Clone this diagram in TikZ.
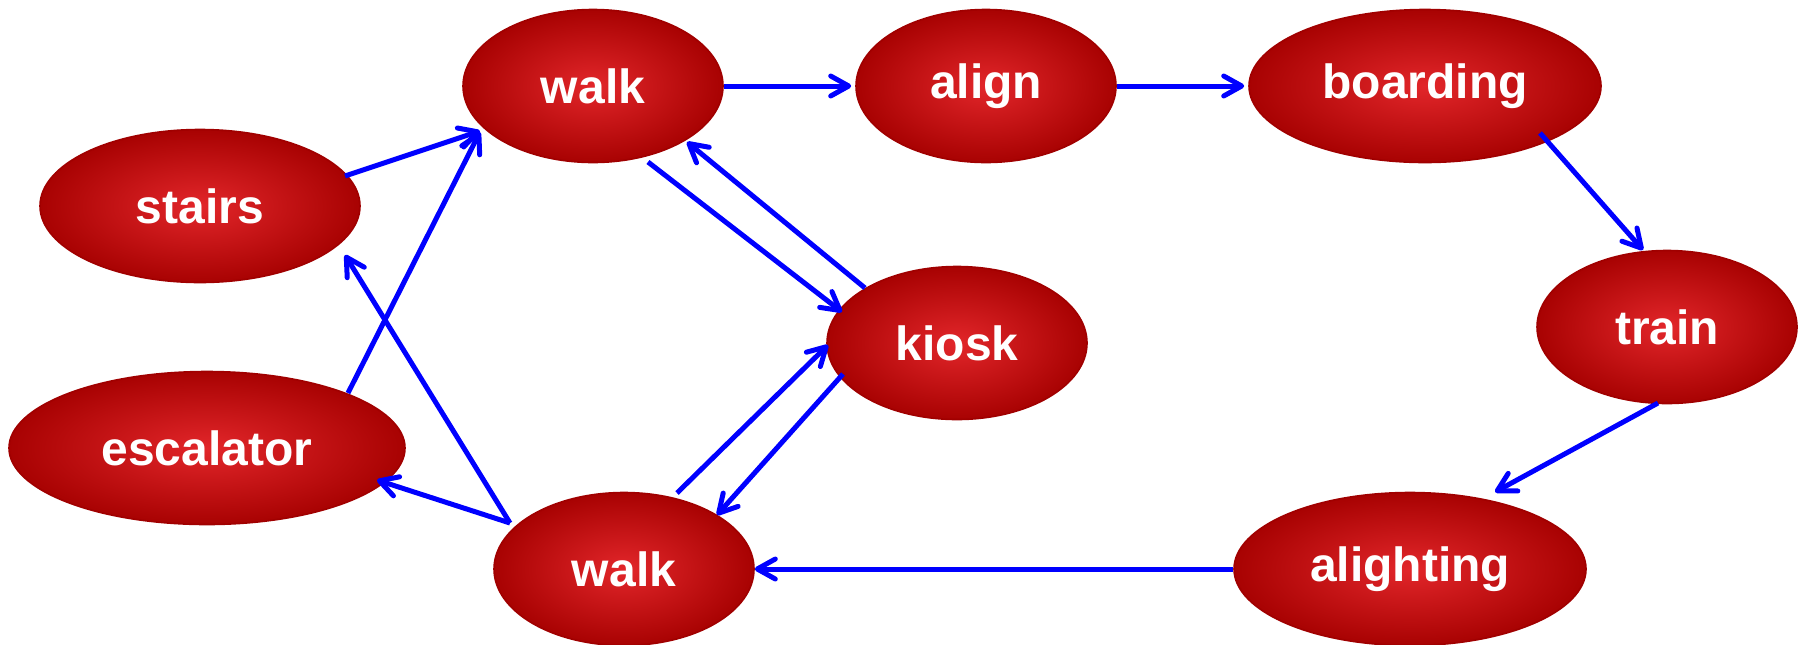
\documentclass[tikz,border=0pt]{standalone}
\usepackage{fontspec}
\setmainfont{Liberation Sans}
\usetikzlibrary{shapes.geometric,arrows.meta}
\definecolor{redin}{RGB}{226,38,42}
\definecolor{redout}{RGB}{168,2,2}
\definecolor{redline}{RGB}{160,0,0}
\definecolor{arrowblue}{RGB}{0,0,255}
\tikzset{
  state/.style={ellipse, draw=redline, line width=0.8pt, shading=radial,
    inner color=redin, outer color=redout, inner sep=0pt,
    minimum height=76.5pt, text=white,
    font=\fontsize{24}{28}\selectfont\bfseries},
  narrow/.style={state, minimum width=130pt},
  mid/.style={state, minimum width=160pt},
  wide/.style={state, minimum width=176pt},
  widest/.style={state, minimum width=198pt},
  arr/.style={draw=arrowblue, line width=2.5pt,
    -{Straight Barb[length=9pt,width=10pt,round]}},
}
\begin{document}
\begin{tikzpicture}[x=0.5pt,y=-0.5pt]
  \useasboundingbox (0,0) rectangle (1802,644);
  \clip (0,0) rectangle (1802,644);

  % states
  \node[narrow] (walkT)     at (593,86)   {walk};
  \node[narrow] (align)     at (986,86)   {align};
  \node[wide]   (boarding)  at (1425,86)  {boarding};
  \node[mid]    (stairs)    at (200,206)  {stairs};
  \node[widest] (escalator) at (207,448)  {escalator};
  \node[narrow] (kiosk)     at (957,343)  {kiosk};
  \node[narrow] (train)     at (1667,327) {train};
  \node[narrow] (walkB)     at (624,569)  {walk};
  \node[wide]   (alighting) at (1410,569) {alighting};

  % transitions
  \draw[arr] (walkT.east) -- ([xshift=-2pt]align.west);
  \draw[arr] (align.east) -- ([xshift=-2pt]boarding.west);
  \draw[arr] ([shift={(115,47)}]boarding.center) -- ([shift={(-24,-77)}]train.center);
  \draw[arr] ([shift={(-9,76)}]train.center) -- ([shift={(85,-77)}]alighting.center);
  \draw[arr] (alighting.west) -- (walkB.east);
  \draw[arr] ([shift={(53,-76)}]walkB.center) -- ([shift={(-129,2)}]kiosk.center);
  \draw[arr] ([shift={(-114,31)}]kiosk.center) -- ([shift={(93,-54)}]walkB.center);
  \draw[arr] ([shift={(55,76)}]walkT.center) -- ([shift={(-115,-31)}]kiosk.center);
  \draw[arr] ([shift={(-92,-55)}]kiosk.center) -- ([shift={(94,56)}]walkT.center);
  \draw[arr] ([shift={(145,-30)}]stairs.center) -- ([shift={(-113,45)}]walkT.center);
  \draw[arr] ([shift={(141,-55)}]escalator.center) -- ([shift={(-113,46)}]walkT.center);
  \draw[arr] ([shift={(-114,-46)}]walkB.center) -- ([shift={(145,49)}]stairs.center);
  \draw[arr] ([shift={(-114,-46)}]walkB.center) -- ([shift={(170,32)}]escalator.center);
\end{tikzpicture}
\end{document}
